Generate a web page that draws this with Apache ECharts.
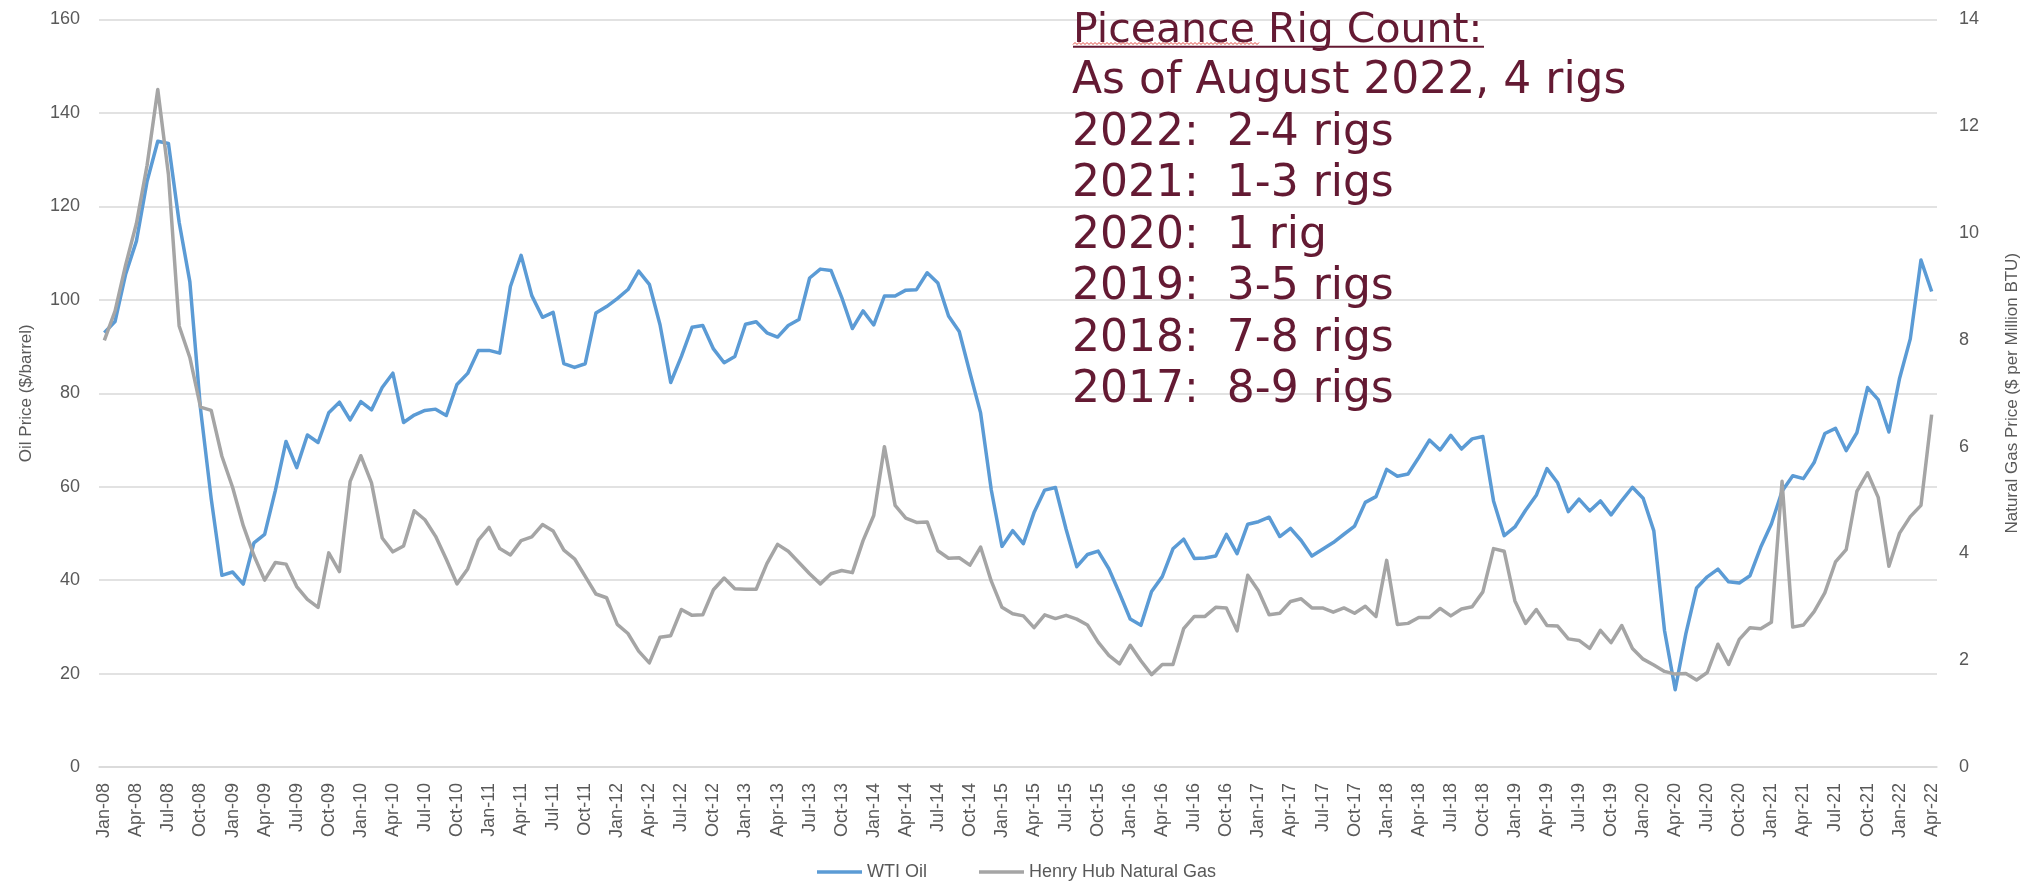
<!DOCTYPE html>
<html>
<head>
<meta charset="utf-8">
<script src="https://cdn.jsdelivr.net/npm/echarts@6/dist/echarts.min.js"></script>
<style>
  html, body { margin: 0; padding: 0; background: #fff; }
  #chart { width: 2023px; height: 889px; }
</style>
</head>
<body>
<div id="chart"></div>
<script>
// month labels Jan-08 ... Apr-22
const monthNames = ['Jan', 'Feb', 'Mar', 'Apr', 'May', 'Jun', 'Jul', 'Aug', 'Sep', 'Oct', 'Nov', 'Dec'];
const months = [];
for (let y = 8; y <= 22; y++) {
  for (let m = 0; m < 12; m++) {
    if (y === 22 && m > 3) break;
    months.push(monthNames[m] + '-' + String(y).padStart(2, '0'));
  }
}

// WTI oil, $/barrel (left axis)
const wti2008 = [92.95, 95.35, 105.56, 112.57, 125.39, 133.93, 133.44, 116.61, 103.90, 76.65, 57.44, 41.02];
const wti2009 = [41.74, 39.16, 47.98, 49.79, 59.16, 69.68, 64.09, 71.06, 69.46, 75.82, 78.08, 74.30];
const wti2010 = [78.22, 76.42, 81.24, 84.29, 73.74, 75.34, 76.32, 76.60, 75.24, 81.89, 84.25, 89.15];
const wti2011 = [89.17, 88.58, 102.86, 109.53, 100.90, 96.26, 97.30, 86.33, 85.52, 86.32, 97.16, 98.56];
const wti2012 = [100.27, 102.20, 106.16, 103.32, 94.66, 82.30, 87.90, 94.13, 94.51, 89.49, 86.53, 87.86];
const wti2013 = [94.76, 95.31, 92.94, 92.02, 94.51, 95.77, 104.67, 106.57, 106.29, 100.54, 93.86, 97.63];
const wti2014 = [94.62, 100.82, 100.80, 102.07, 102.18, 105.79, 103.59, 96.54, 93.21, 84.40, 75.79, 59.29];
const wti2015 = [47.22, 50.58, 47.82, 54.45, 59.27, 59.82, 50.90, 42.87, 45.48, 46.22, 42.44, 37.19];
const wti2016 = [31.68, 30.32, 37.55, 40.75, 46.71, 48.76, 44.65, 44.72, 45.18, 49.78, 45.66, 51.97];
const wti2017 = [52.50, 53.47, 49.33, 51.06, 48.48, 45.18, 46.63, 48.04, 49.82, 51.58, 56.64, 57.88];
const wti2018 = [63.70, 62.23, 62.73, 66.25, 69.98, 67.87, 70.98, 68.06, 70.23, 70.75, 56.96, 49.52];
const wti2019 = [51.38, 54.95, 58.15, 63.86, 60.83, 54.66, 57.35, 54.81, 56.95, 53.96, 57.03, 59.88];
const wti2020 = [57.52, 50.54, 29.21, 16.55, 28.56, 38.31, 40.71, 42.34, 39.63, 39.40, 40.94, 47.02];
const wti2021 = [52.00, 59.04, 62.33, 61.72, 65.17, 71.38, 72.49, 67.73, 71.54, 81.22, 78.65, 71.71];
const wti2022 = [83.22, 91.64, 108.50, 101.78];

// Henry Hub natural gas, $ per million BTU (right axis)
const gas2008 = [7.99, 8.54, 9.41, 10.18, 11.27, 12.69, 11.09, 8.26, 7.67, 6.74, 6.68, 5.82];
const gas2009 = [5.24, 4.52, 3.96, 3.50, 3.83, 3.80, 3.38, 3.14, 2.99, 4.01, 3.66, 5.35];
const gas2010 = [5.83, 5.32, 4.29, 4.03, 4.14, 4.80, 4.63, 4.32, 3.89, 3.43, 3.71, 4.25];
const gas2011 = [4.49, 4.09, 3.97, 4.24, 4.31, 4.54, 4.42, 4.06, 3.90, 3.57, 3.24, 3.17];
const gas2012 = [2.67, 2.50, 2.17, 1.95, 2.43, 2.46, 2.95, 2.84, 2.85, 3.32, 3.54, 3.34];
const gas2013 = [3.33, 3.33, 3.81, 4.17, 4.04, 3.83, 3.62, 3.43, 3.62, 3.68, 3.64, 4.24];
const gas2014 = [4.71, 6.00, 4.90, 4.66, 4.58, 4.59, 4.05, 3.91, 3.92, 3.78, 4.12, 3.48];
const gas2015 = [2.99, 2.87, 2.83, 2.61, 2.85, 2.78, 2.84, 2.77, 2.66, 2.34, 2.09, 1.93];
const gas2016 = [2.28, 1.99, 1.73, 1.92, 1.92, 2.59, 2.82, 2.82, 2.99, 2.98, 2.55, 3.59];
const gas2017 = [3.30, 2.85, 2.88, 3.10, 3.15, 2.98, 2.98, 2.90, 2.98, 2.88, 3.01, 2.82];
const gas2018 = [3.87, 2.67, 2.69, 2.80, 2.80, 2.97, 2.83, 2.96, 3.00, 3.28, 4.09, 4.04];
const gas2019 = [3.11, 2.69, 2.95, 2.65, 2.64, 2.40, 2.37, 2.22, 2.56, 2.33, 2.65, 2.22];
const gas2020 = [2.02, 1.91, 1.79, 1.74, 1.75, 1.63, 1.77, 2.30, 1.92, 2.39, 2.61, 2.59];
const gas2021 = [2.71, 5.35, 2.62, 2.66, 2.91, 3.26, 3.84, 4.07, 5.16, 5.51, 5.05, 3.76];
const gas2022 = [4.38, 4.69, 4.90, 6.60];

const wtiOil = [].concat(wti2008, wti2009, wti2010, wti2011, wti2012, wti2013, wti2014,
  wti2015, wti2016, wti2017, wti2018, wti2019, wti2020, wti2021, wti2022);
const henryHub = [].concat(gas2008, gas2009, gas2010, gas2011, gas2012, gas2013, gas2014,
  gas2015, gas2016, gas2017, gas2018, gas2019, gas2020, gas2021, gas2022);

const rigHeading = 'Piceance Rig Count:';
const rigNotes = [
  'As of August 2022, 4 rigs',
  '2022:  2-4 rigs',
  '2021:  1-3 rigs',
  '2020:  1 rig',
  '2019:  3-5 rigs',
  '2018:  7-8 rigs',
  '2017:  8-9 rigs'
];

const textGray = '#595959';
const gridGray = '#d9d9d9';
const noteColor = '#641a33';
const labelFont = 'Liberation Sans';

// little zigzag for the spell-check mark under "Piceance"
const squiggle = [];
for (let x = 1073, k = 0; x <= 1260; x += 2, k++) {
  squiggle.push([x, k % 2 ? 42.5 : 44.5]);
}

const chart = echarts.init(document.getElementById('chart'));
chart.setOption({
  animation: false,
  backgroundColor: '#fff',
  grid: { left: 99, right: 86, top: 19.5, bottom: 122, outerBoundsMode: 'none' },
  legend: {
    data: ['WTI Oil', 'Henry Hub Natural Gas'],
    left: 817,
    top: 863,
    padding: 0,
    icon: 'rect',
    itemWidth: 45,
    itemHeight: 3.5,
    itemGap: 52,
    textStyle: { color: textGray, fontSize: 18, fontFamily: labelFont }
  },
  xAxis: {
    type: 'category',
    data: months,
    boundaryGap: true,
    axisLine: { lineStyle: { color: gridGray, width: 1.5 } },
    axisTick: { show: false },
    axisLabel: {
      interval: 2,
      rotate: 90,
      margin: 16,
      color: textGray,
      fontSize: 18,
      fontFamily: labelFont
    }
  },
  yAxis: [
    {
      type: 'value',
      min: 0,
      max: 160,
      interval: 20,
      name: 'Oil Price ($/barrel)',
      nameLocation: 'middle',
      nameGap: 64,
      nameTextStyle: { color: textGray, fontSize: 17, fontFamily: labelFont },
      axisLine: { show: false },
      axisTick: { show: false },
      axisLabel: { color: textGray, fontSize: 18, fontFamily: labelFont, margin: 19 },
      splitLine: { lineStyle: { color: gridGray, width: 1.5 } }
    },
    {
      type: 'value',
      min: 0,
      max: 14,
      interval: 2,
      position: 'right',
      name: 'Natural Gas Price ($ per Million BTU)',
      nameLocation: 'middle',
      nameRotate: 90,
      nameGap: 67,
      nameTextStyle: { color: textGray, fontSize: 17, fontFamily: labelFont },
      axisLine: { show: false },
      axisTick: { show: false },
      axisLabel: { color: textGray, fontSize: 18, fontFamily: labelFont, margin: 22 },
      splitLine: { show: false }
    }
  ],
  series: [
    {
      name: 'WTI Oil',
      type: 'line',
      data: wtiOil,
      symbol: 'none',
      color: '#5b9bd5',
      lineStyle: { width: 3.5, color: '#5b9bd5', join: 'round' }
    },
    {
      name: 'Henry Hub Natural Gas',
      type: 'line',
      yAxisIndex: 1,
      data: henryHub,
      symbol: 'none',
      color: '#a5a5a5',
      lineStyle: { width: 3.5, color: '#a5a5a5', join: 'round' }
    }
  ],
  graphic: [
    {
      type: 'text',
      x: 1073,
      y: 6,
      z: 100,
      style: {
        text: rigHeading,
        font: '41px "DejaVu Sans"',
        lineHeight: 51.5,
        align: 'left',
        verticalAlign: 'top',
        fill: noteColor
      }
    },
    {
      type: 'text',
      x: 1072,
      y: 56,
      z: 100,
      style: {
        text: rigNotes.join('\n'),
        font: '44px "DejaVu Sans"',
        lineHeight: 51.5,
        align: 'left',
        verticalAlign: 'top',
        fill: noteColor
      }
    },
    {
      // underline of the heading
      type: 'line',
      z: 100,
      shape: { x1: 1073, y1: 46.8, x2: 1484, y2: 46.8 },
      style: { stroke: noteColor, lineWidth: 2 }
    },
    {
      type: 'polyline',
      z: 101,
      shape: { points: squiggle },
      style: { stroke: '#e0463c', lineWidth: 1, fill: null }
    }
  ]
});
</script>
</body>
</html>
